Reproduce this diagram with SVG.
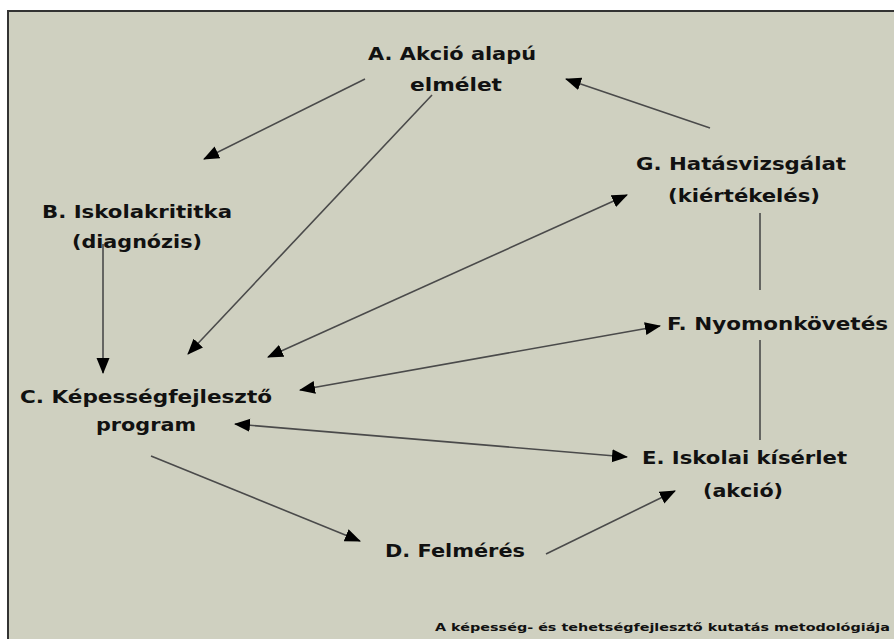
<svg xmlns="http://www.w3.org/2000/svg" width="894" height="639" viewBox="0 0 894 639">
<defs>
<style>
.bg{fill:#cfd0c0}
.lbl{font-family:"DejaVu Sans",Verdana,sans-serif;font-weight:bold;font-size:18px;fill:#111}
.foot{font-family:"DejaVu Sans",Verdana,sans-serif;font-weight:bold;font-size:11px;fill:#111}
.c{stroke:#4a4a4a;stroke-width:1.6;fill:none}
</style>
<marker id="ah" markerUnits="userSpaceOnUse" markerWidth="16" markerHeight="14" refX="15" refY="6.5" orient="auto-start-reverse" viewBox="0 0 16 13">
<path d="M0,0 L16,6.5 L0,13 z" fill="#000"/>
</marker>
</defs>
<rect width="894" height="639" fill="#fff"/>
<rect x="7" y="10" width="887" height="629" class="bg"/>
<path d="M8,639 V11 H894" stroke="#333" stroke-width="2" fill="none"/>
<g id="connectors">
<line class="c" x1="365" y1="79" x2="204" y2="159" marker-end="url(#ah)"/>
<line class="c" x1="432" y1="95" x2="188" y2="354" marker-end="url(#ah)"/>
<line class="c" x1="710" y1="128" x2="566" y2="79" marker-end="url(#ah)"/>
<line class="c" x1="103" y1="244" x2="103" y2="373" marker-end="url(#ah)"/>
<line class="c" x1="268" y1="357" x2="627" y2="195" marker-start="url(#ah)" marker-end="url(#ah)"/>
<line class="c" x1="300" y1="390" x2="660" y2="326" marker-start="url(#ah)" marker-end="url(#ah)"/>
<line class="c" x1="235" y1="424" x2="627" y2="457" marker-start="url(#ah)" marker-end="url(#ah)"/>
<line class="c" x1="151" y1="456" x2="360" y2="541" marker-end="url(#ah)"/>
<line class="c" x1="546" y1="554" x2="675" y2="491" marker-end="url(#ah)"/>
<line class="c" x1="760" y1="213" x2="760" y2="290"/>
<line class="c" x1="760" y1="340" x2="760" y2="440"/>
</g>
<g id="A"><text class="lbl" x="368" y="60" textLength="168" lengthAdjust="spacingAndGlyphs">A. Akció alapú</text><text class="lbl" x="410" y="91" textLength="92" lengthAdjust="spacingAndGlyphs">elmélet</text></g>
<g id="B"><text class="lbl" x="42" y="218" textLength="190" lengthAdjust="spacingAndGlyphs">B. Iskolakrititka</text><text class="lbl" x="72" y="248" textLength="130" lengthAdjust="spacingAndGlyphs">(diagnózis)</text></g>
<g id="G"><text class="lbl" x="636" y="170" textLength="210" lengthAdjust="spacingAndGlyphs">G. Hatásvizsgálat</text><text class="lbl" x="668" y="202" textLength="152" lengthAdjust="spacingAndGlyphs">(kiértékelés)</text></g>
<g id="F"><text class="lbl" x="667" y="330" textLength="221" lengthAdjust="spacingAndGlyphs">F. Nyomonkövetés</text></g>
<g id="C"><text class="lbl" x="20" y="403" textLength="252" lengthAdjust="spacingAndGlyphs">C. Képességfejlesztő</text><text class="lbl" x="96" y="431" textLength="100" lengthAdjust="spacingAndGlyphs">program</text></g>
<g id="E"><text class="lbl" x="642" y="464" textLength="205" lengthAdjust="spacingAndGlyphs">E. Iskolai kísérlet</text><text class="lbl" x="703" y="497" textLength="80" lengthAdjust="spacingAndGlyphs">(akció)</text></g>
<g id="D"><text class="lbl" x="385" y="557" textLength="140" lengthAdjust="spacingAndGlyphs">D. Felmérés</text></g>
<text class="foot" x="435" y="631" textLength="455" lengthAdjust="spacingAndGlyphs">A képesség- és tehetségfejlesztő kutatás metodológiája</text>
</svg>
